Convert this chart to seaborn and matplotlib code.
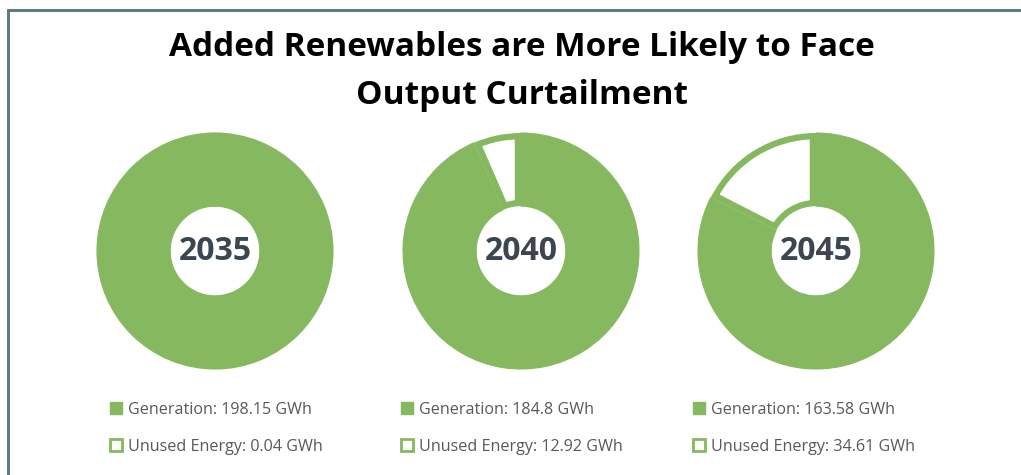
import matplotlib
matplotlib.use("Agg")
import matplotlib.pyplot as plt
import seaborn as sns
from matplotlib.patches import Patch
from matplotlib.lines import Line2D

sns.set_theme(style="white")
FONTS = ['Open Sans', 'DejaVu Sans']
plt.rcParams['font.family'] = FONTS

title_lines = ["Added Renewables are More Likely to Face", "Output Curtailment"]
years = ["2035", "2040", "2045"]
generation = [198.15, 184.8, 163.58]
unused = [0.04, 12.92, 34.61]
gen_labels = ["Generation: 198.15 GWh", "Generation: 184.8 GWh", "Generation: 163.58 GWh"]
unused_labels = ["Unused Energy: 0.04 GWh", "Unused Energy: 12.92 GWh", "Unused Energy: 34.61 GWh"]

GREEN = "#86b85f"
DARK = "#3b4650"
GRAY = "#595959"
FRAME = "#5f7a80"

W, H = 1021, 475
fig = plt.figure(figsize=(W / 100, H / 100), dpi=100)
fig.patch.set_facecolor("white")

# frame lines (top and left)
fig.add_artist(Line2D([8 / W, 1], [1 - 10 / H, 1 - 10 / H], color=FRAME, lw=2.2, transform=fig.transFigure))
fig.add_artist(Line2D([8 / W, 8 / W], [0, 1 - 10 / H], color=FRAME, lw=2.2, transform=fig.transFigure))

fig.text(522 / W, 1 - 47 / H, title_lines[0], ha="center", va="center",
         fontsize=24, fontweight="bold", color="black")
fig.text(522 / W, 1 - 96 / H, title_lines[1], ha="center", va="center",
         fontsize=24, fontweight="bold", color="black")

centers = [215, 521, 816]
R = 118
legend_x = [110, 401, 693]
for i, cx in enumerate(centers):
    ax = fig.add_axes([(cx - R) / W, (H - 251 - R) / H, 2 * R / W, 2 * R / H])
    wedges, _ = ax.pie([generation[i], unused[i]], startangle=90, counterclock=False,
                       colors=[GREEN, "white"],
                       wedgeprops=dict(width=0.62, linewidth=0))
    gw, uw = wedges
    gw.set_edgecolor(GREEN)
    gw.set_linewidth(0.8)
    uw.set_edgecolor(GREEN)
    uw.set_linewidth(9)
    uw.set_clip_on(True)
    uw.set_clip_path(uw)
    uw.set_zorder(gw.get_zorder() + 1)
    ax.set_xlim(-1, 1)
    ax.set_ylim(-1, 1)
    ax.set_aspect("equal")
    ax.axis("off")
    ax.text(0, 0, years[i], ha="center", va="center", fontsize=23,
            fontweight="bold", color=DARK)

    handles = [Patch(facecolor=GREEN, edgecolor=GREEN),
               Patch(facecolor="white", edgecolor=GREEN, linewidth=2)]
    leg = fig.legend(handles, [gen_labels[i], unused_labels[i]],
                     loc="upper left", bbox_to_anchor=(legend_x[i] / W, 1 - 402 / H),
                     frameon=False, fontsize=11.6, handlelength=0.75, handleheight=0.75,
                     handletextpad=0.35, labelspacing=1.3, borderpad=0, borderaxespad=0)
    for t in leg.get_texts():
        t.set_color(GRAY)

fig.savefig("out.png", dpi=100, facecolor="white")
